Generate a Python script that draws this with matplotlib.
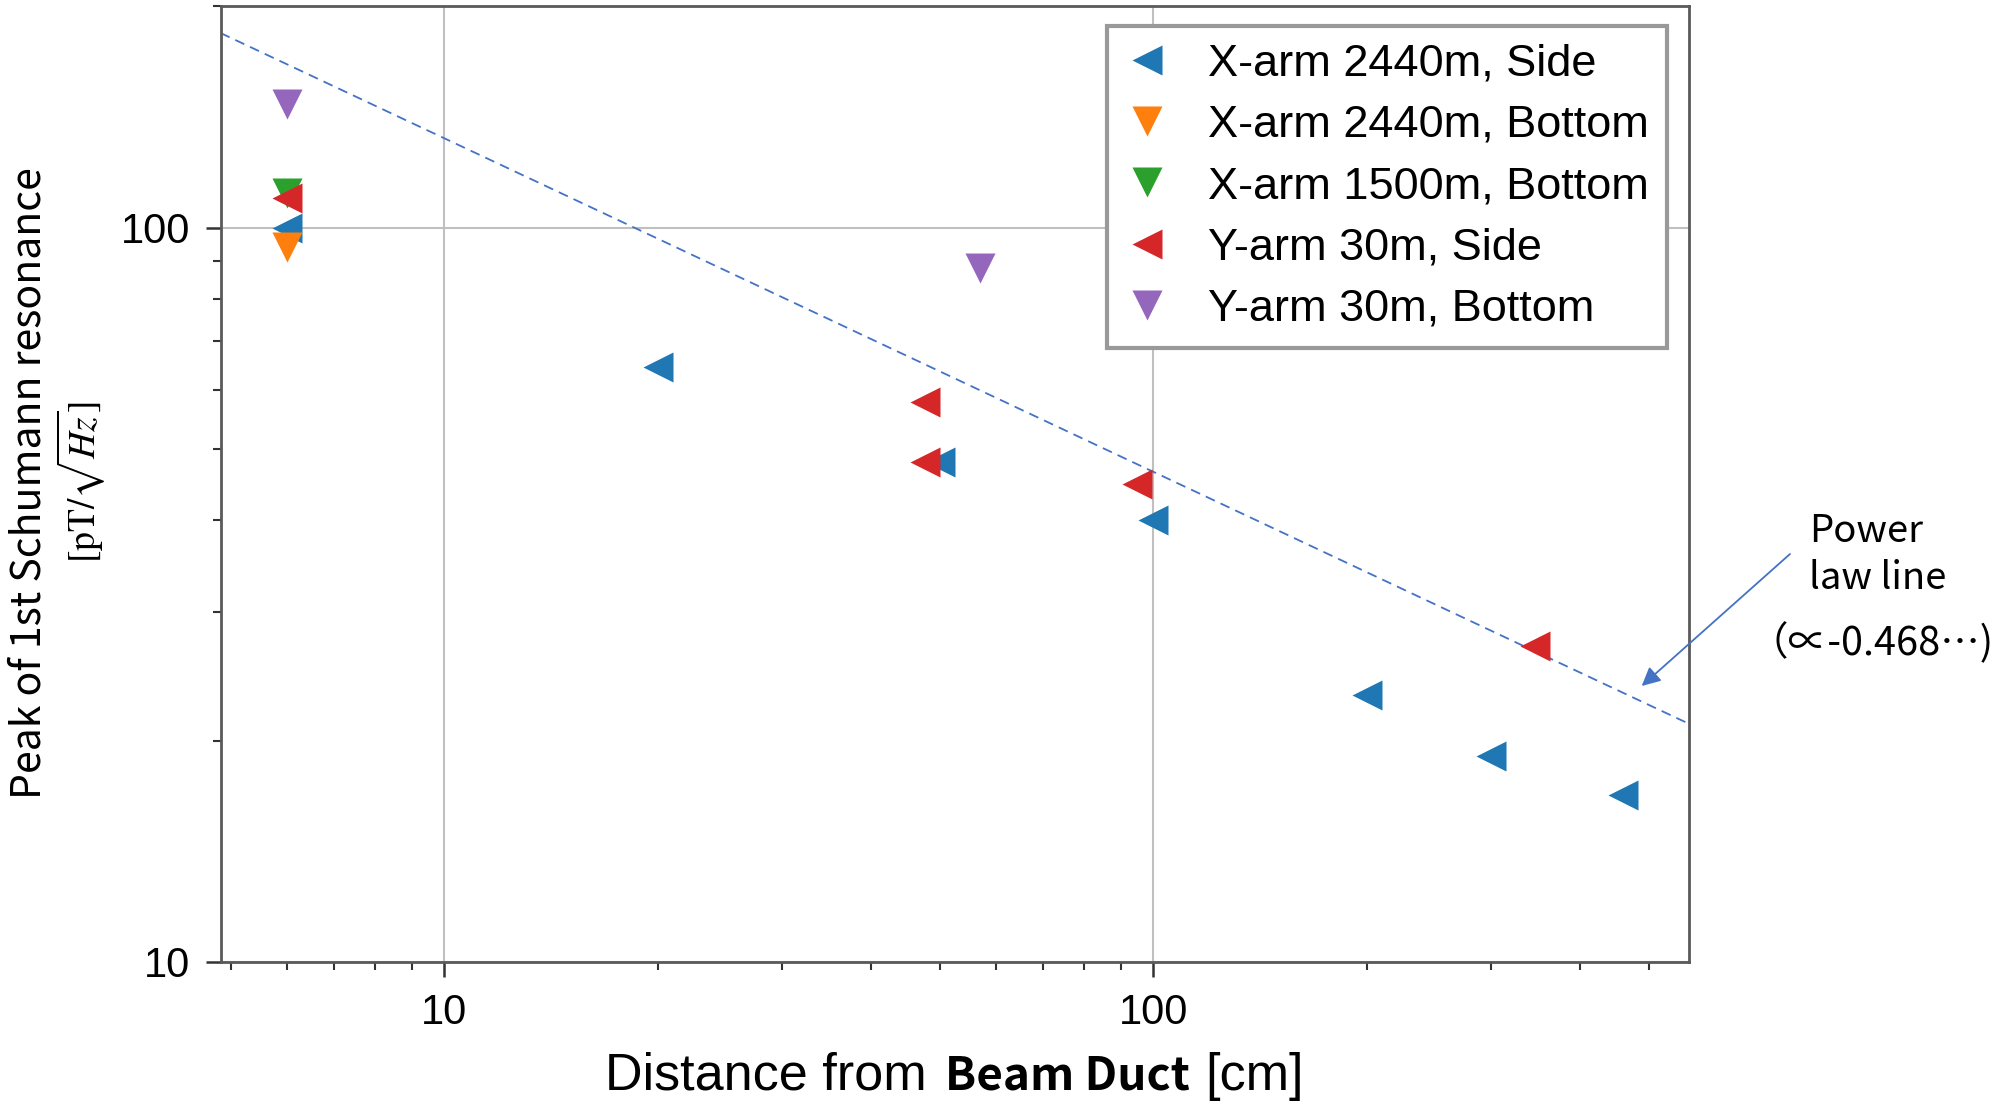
import numpy as np
import matplotlib
matplotlib.use("Agg")
import matplotlib.pyplot as plt

plt.rcParams['mathtext.fontset'] = 'stix'

# values (distance [cm], peak [pT/rtHz])
xs_side_x = [6, 20, 50, 100, 200, 300, 460]
xs_side_y = [100, 64.5, 48, 40, 23.1, 19.05, 16.9]
xb2440_x = [6]
xb2440_y = [94.2]
xb1500_x = [6]
xb1500_y = [111.6]
ys_side_x = [6, 47.6, 47.6, 95, 346]
ys_side_y = [109.6, 57.9, 48, 44.8, 26.9]
yb_x = [6, 57]
yb_y = [147.5, 88]

labels = ['X-arm 2440m, Side', 'X-arm 2440m, Bottom', 'X-arm 1500m, Bottom',
          'Y-arm 30m, Side', 'Y-arm 30m, Bottom']
colors = ['#1f77b4', '#ff7f0e', '#2ca02c', '#d62728', '#9467bd']
markers = ['<', 'v', 'v', '<', 'v']

# power law line, read at the axes edges
line_x = [4.84, 570]
line_y = [184, 21.1]

fig = plt.figure(figsize=(20.11, 11.12), dpi=100)
ax = fig.add_axes([0.1097, 0.1349, 0.7302, 0.8593])

series = [(xs_side_x, xs_side_y), (xb2440_x, xb2440_y), (xb1500_x, xb1500_y),
          (ys_side_x, ys_side_y), (yb_x, yb_y)]
for (x, y), lab, c, m in zip(series, labels, colors, markers):
    ax.plot(x, y, linestyle='none', marker=m, ms=21, color=c, mec='none', label=lab, zorder=3)

ax.plot(line_x, line_y, '--', color='#4472C4', lw=1.3, dashes=(5.5, 3.5), zorder=2)

ax.set_xscale('log')
ax.set_yscale('log')
ax.set_xlim(4.84, 570)
ax.set_ylim(10, 200)
ax.set_xticks([10, 100])
ax.set_xticklabels(['10', '100'])
ax.set_yticks([10, 100])
ax.set_yticklabels(['10', '100'])
ax.tick_params(which='minor', labelleft=False, labelbottom=False)
ax.grid(True, which='major', color='#c0c0c0', lw=1.5)
ax.set_axisbelow(True)
for s in ax.spines.values():
    s.set_color('#5a5a5a')
    s.set_linewidth(2)
ax.tick_params(which='major', length=11, width=1.8, color='#333333', pad=11,
               labelsize=30)
ax.tick_params(which='minor', length=6, width=1.5, color='#333333')
for t in ax.get_xticklabels() + ax.get_yticklabels():
    t.set_family('Liberation Sans')

leg = ax.legend(loc='upper right', bbox_to_anchor=(0.985, 0.980), borderaxespad=0,
                prop={'family': 'Liberation Sans', 'size': 32.5},
                handlelength=1.0, handletextpad=0.85, borderpad=0.4,
                labelspacing=0.45, fancybox=False, framealpha=1)
leg.get_frame().set_edgecolor('#999999')
leg.get_frame().set_linewidth(3)

# y label, two lines
jp = ['Noto Sans CJK JP', 'DejaVu Sans']
fig.text(0.0145, 0.566, 'Peak of 1st Schumann resonance', rotation=90,
         ha='center', va='center', fontsize=29.5, family=jp)
fig.text(0.0398, 0.566, r'$[\mathrm{pT}/\sqrt{Hz}]$', rotation=90,
         ha='center', va='center', fontsize=27)

# x label in mixed fonts
fig.text(605 / 2011, 1 - 1090 / 1112, 'Distance from', ha='left', va='baseline',
         fontsize=37.5, family='Liberation Sans')
fig.text(945 / 2011, 1 - 1090 / 1112, 'Beam Duct', ha='left', va='baseline',
         fontsize=33, family=jp, weight='bold')
fig.text(1205 / 2011, 1 - 1090 / 1112, '[cm]', ha='left', va='baseline',
         fontsize=37.5, family='Liberation Sans')

# annotation
fig.text(1809 / 2011, 1 - 542 / 1112, 'Power', ha='left', va='baseline',
         fontsize=27.5, family=jp)
fig.text(1809 / 2011, 1 - 589 / 1112, 'law line', ha='left', va='baseline',
         fontsize=27.5, family=jp)
fig.text(1749 / 2011, 1 - 655 / 1112, '（∝-0.468⋯)', ha='left', va='baseline',
         fontsize=28.5, family=jp)
ax.annotate('', xy=(1641.7 / 2011, 1 - 686 / 1112), xycoords='figure fraction',
            xytext=(1790 / 2011, 1 - 554 / 1112), textcoords='figure fraction',
            arrowprops=dict(arrowstyle='-|>', color='#4472C4', lw=1.3,
                            mutation_scale=28, shrinkA=0, shrinkB=0))

fig.savefig('out.png', dpi=100)
